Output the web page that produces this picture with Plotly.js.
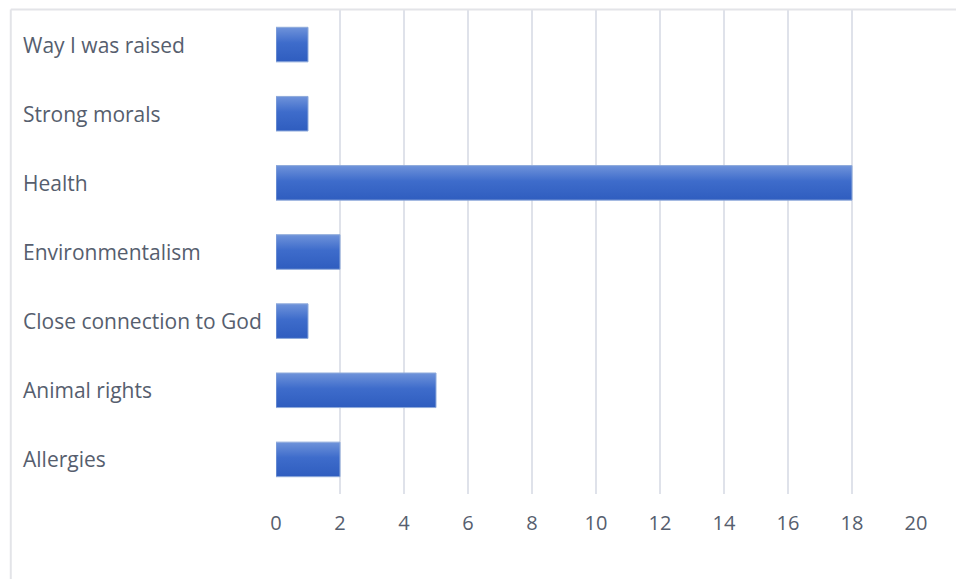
<!DOCTYPE html>
<html>
<head>
<meta charset="utf-8">
<script src="https://cdn.plot.ly/plotly-3.0.1.min.js"></script>
<style>
html,body{margin:0;padding:0;background:#fff;}
#chart{width:956px;height:579px;}
</style>
</head>
<body>
<div id="chart"></div>
<script>
const categories = ["Way I was raised","Strong morals","Health","Environmentalism","Close connection to God","Animal rights","Allergies"];
const values = [1,1,18,2,1,5,2];
const xTicks = [0,2,4,6,8,10,12,14,16,18,20];

const textColor = "#565e6e";
const fontFam = "'Open Sans', 'Noto Sans', sans-serif";

const trace = {
  type: "bar",
  orientation: "h",
  y: categories,
  x: values,
  marker: {color: "#3c69c8", line: {color: "#8eaadb", width: 1}},
  hoverinfo: "x+y"
};

const annotations = categories.map(c => ({
  xref: "paper", yref: "y", x: -0.3985, y: c, text: c,
  showarrow: false, xanchor: "left", yanchor: "middle",
  font: {family: fontFam, size: 21, color: textColor}
}));

const layout = {
  width: 956, height: 579,
  margin: {l: 276, r: 40, t: 10, b: 85, pad: 0},
  paper_bgcolor: "#ffffff",
  plot_bgcolor: "#ffffff",
  showlegend: false,
  bargap: 0.5,
  font: {family: fontFam, color: textColor},
  xaxis: {
    range: [0, 20], tickvals: xTicks, ticktext: xTicks.map(String),
    showgrid: true, gridcolor: "#dfe2ea", gridwidth: 2,
    zeroline: false, showline: false, ticks: "",
    tickfont: {family: fontFam, size: 20, color: textColor},
    ticklabelstandoff: 15, fixedrange: true
  },
  yaxis: {
    categoryorder: "array", categoryarray: categories.slice().reverse(),
    autorange: false, range: [-0.5, categories.length - 0.5],
    showticklabels: false, showgrid: false, zeroline: false, showline: false,
    ticks: "", fixedrange: true
  },
  annotations: annotations,
  shapes: [
    {type: "line", xref: "paper", yref: "paper", x0: -0.4144, x1: 1.1, y0: 1.001, y1: 1.001,
     line: {color: "#e3e4e8", width: 2}},
    {type: "line", xref: "paper", yref: "paper", x0: -0.4144, x1: -0.4144, y0: 1.001, y1: -0.2,
     line: {color: "#e3e4e8", width: 2}}
  ]
};

Plotly.newPlot("chart", [trace], layout, {displayModeBar: false, staticPlot: true}).then(gd => {
  const svg = gd.querySelector("svg.main-svg");
  const ns = "http://www.w3.org/2000/svg";
  let defs = svg.querySelector("defs");
  if (!defs) { defs = document.createElementNS(ns, "defs"); svg.insertBefore(defs, svg.firstChild); }
  const g = document.createElementNS(ns, "linearGradient");
  g.setAttribute("id", "barGrad");
  g.setAttribute("x1", "0"); g.setAttribute("y1", "0");
  g.setAttribute("x2", "0"); g.setAttribute("y2", "1");
  [["0%", "#6f93da"], ["45%", "#3e6ccb"], ["100%", "#2f5dbf"]].forEach(([o, c]) => {
    const s = document.createElementNS(ns, "stop");
    s.setAttribute("offset", o); s.setAttribute("stop-color", c);
    g.appendChild(s);
  });
  defs.appendChild(g);
  gd.querySelectorAll(".bars .point path").forEach(p => { p.style.fill = "url(#barGrad)"; });
});
</script>
</body>
</html>
